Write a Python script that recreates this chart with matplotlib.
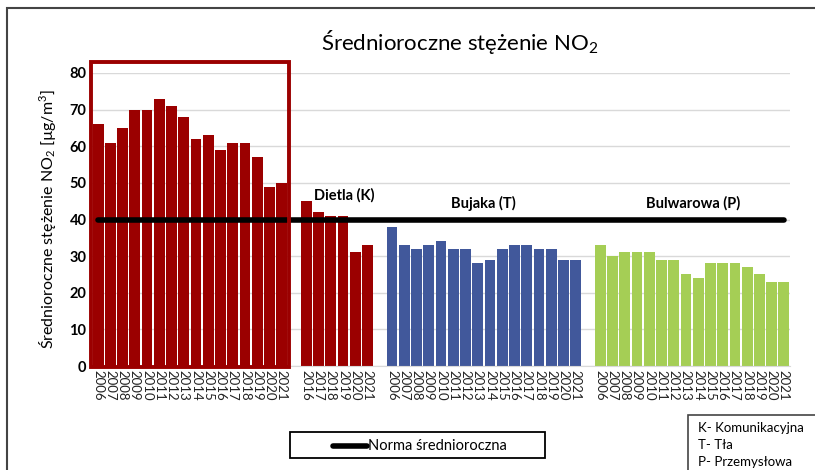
import matplotlib.pyplot as plt
from matplotlib.patches import Rectangle
from matplotlib.lines import Line2D

plt.rcParams['font.family'] = ['Lato', 'DejaVu Sans']
plt.rcParams['mathtext.fontset'] = 'custom'
plt.rcParams['mathtext.rm'] = 'Lato'
plt.rcParams['mathtext.it'] = 'Lato:italic'
plt.rcParams['mathtext.bf'] = 'Lato:bold'

years_full = [str(y) for y in range(2006, 2022)]
years_dietla = [str(y) for y in range(2016, 2022)]

boxed = [66, 61, 65, 70, 70, 73, 71, 68, 62, 63, 59, 61, 61, 57, 49, 50]
dietla = [45, 42, 41, 41, 31, 33]
bujaka = [38, 33, 32, 33, 34, 32, 32, 28, 29, 32, 33, 33, 32, 32, 29, 29]
bulwarowa = [33, 30, 31, 31, 31, 29, 29, 25, 24, 28, 28, 28, 27, 25, 23, 23]
norma = 40

red = '#9B0000'
blue = '#41589B'
green = '#A5CE55'

groups = [
    (boxed, years_full, red),
    (dietla, years_dietla, red),
    (bujaka, years_full, blue),
    (bulwarowa, years_full, green),
]

fig = plt.figure(figsize=(8.15, 4.7), dpi=100)
ax = fig.add_axes([92/815, 1-366/470, 698/815, 293/470])

pos = 0
xt, xl = [], []
for vals, labs, col in groups:
    xs = list(range(pos, pos + len(vals)))
    ax.bar(xs, vals, width=0.88, color=col, zorder=2)
    xt += xs
    xl += labs
    pos += len(vals) + 1
last = pos - 2

ax.set_xlim(-0.5, last + 0.5)
ax.set_ylim(0, 80)
ax.set_yticks(range(0, 81, 10))
ax.set_xticks(xt)
ax.set_xticklabels(xl, rotation=270, fontsize=9.5, color='#222222')
for t in ax.get_yticklabels():
    t.set_fontweight('bold')
    t.set_fontsize(10.5)
ax.tick_params(length=0, pad=4)
ax.tick_params(axis='x', pad=3)
ax.yaxis.grid(True, color='#D9D9D9', lw=1, zorder=0)
for s in ['top', 'right', 'left']:
    ax.spines[s].set_visible(False)
ax.spines['bottom'].set_color('#D9D9D9')

ax.plot([0, last], [norma, norma], color='black', lw=4, solid_capstyle='round', zorder=4)

ax.add_patch(Rectangle((-0.62, -0.3), 16.2, 83.2, fill=False, edgecolor=red, lw=2.8,
                       clip_on=False, zorder=5))

ax.text(17.6, 46.5, 'Dietla (K)', fontsize=10.5, fontweight='bold', va='center', ha='left')
ax.text(31.5, 44.5, 'Bujaka (T)', fontsize=10.5, fontweight='bold', va='center', ha='center')
ax.text(48.6, 44.5, 'Bulwarowa (P)', fontsize=10.5, fontweight='bold', va='center', ha='center')

ax.set_ylabel('Średnioroczne stężenie NO$_2$ [µg/m$^3$]', fontsize=11.5, labelpad=8)

fig.text(460/815, 1-42/470, 'Średnioroczne stężenie NO$_2$', fontsize=16, ha='center', va='center')

# outer frame
fig.patches.append(Rectangle((7/815, -0.05), 1.1, 1-8/470+0.05, transform=fig.transFigure,
                             fill=False, edgecolor='#444444', lw=1.5))

# legend box
fig.patches.append(Rectangle((290/815, 1-458/470), 255/815, 26/470, transform=fig.transFigure,
                             fill=False, edgecolor='black', lw=1.3))
fig.lines.append(Line2D([333/815, 367/815], [1-446/470, 1-446/470], transform=fig.transFigure,
                        color='black', lw=4, solid_capstyle='round'))
fig.text(368/815, 1-446/470, 'Norma średnioroczna', fontsize=10.5, va='center', ha='left')

# key box
fig.patches.append(Rectangle((688/815, -0.05), 0.2, 1-415/470+0.05, transform=fig.transFigure,
                             fill=False, edgecolor='#444444', lw=1.2))
for i, line in enumerate(['K- Komunikacyjna', 'T- Tła', 'P- Przemysłowa']):
    fig.text(698/815, 1-(428+17*i)/470, line, fontsize=9.5, va='center', ha='left')

fig.savefig('out.png', dpi=100, facecolor='white')
